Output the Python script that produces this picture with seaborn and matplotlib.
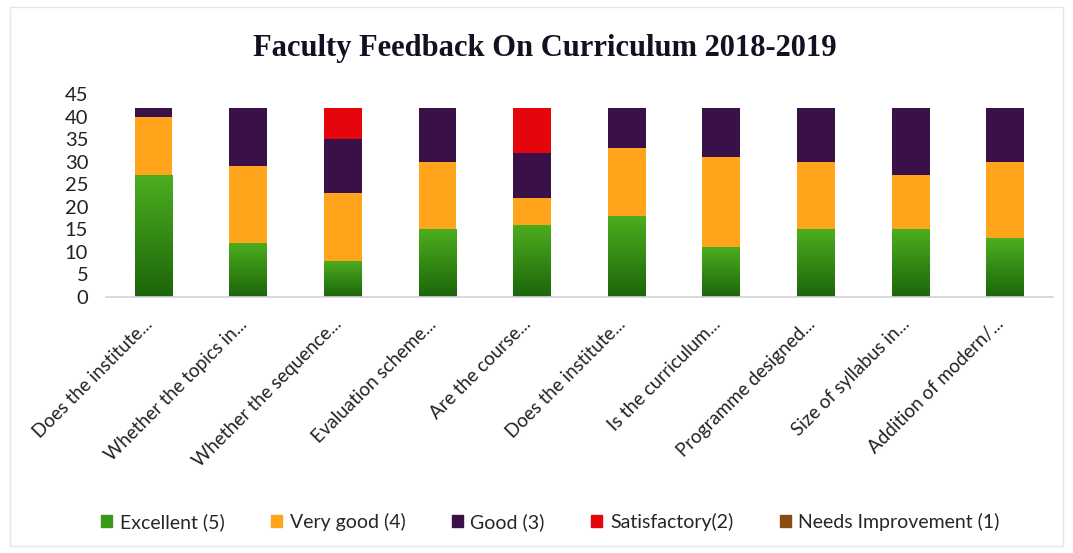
import numpy as np
import pandas as pd
import matplotlib
matplotlib.use("Agg")
import matplotlib.pyplot as plt
import matplotlib.transforms as mtransforms
from matplotlib.colors import LinearSegmentedColormap
from matplotlib.patches import Rectangle
import seaborn as sns

categories = [
    "Does the institute...",
    "Whether the topics in...",
    "Whether the sequence...",
    "Evaluation scheme...",
    "Are the course...",
    "Does the institute... ",
    "Is the curriculum...",
    "Programme designed...",
    "Size of syllabus in...",
    "Addition of modern/...",
]
tick_labels = [c.strip() for c in categories]

excellent = [27, 12, 8, 15, 16, 18, 11, 15, 15, 13]
very_good = [13, 17, 15, 15, 6, 15, 20, 15, 12, 17]
good = [2, 13, 12, 12, 10, 9, 11, 12, 15, 12]
satisfactory = [0, 0, 7, 0, 10, 0, 0, 0, 0, 0]
needs_improvement = [0, 0, 0, 0, 0, 0, 0, 0, 0, 0]

series_names = ["Excellent (5)", "Very good (4)", "Good (3)", "Satisfactory(2)", "Needs Improvement (1)"]
series_values = [excellent, very_good, good, satisfactory, needs_improvement]
series_colors = ["#3a9a18", "#ffa41b", "#3a1048", "#e5050c", "#8a4b14"]

title = "Faculty Feedback On Curriculum 2018-2019"
y_ticks = [0, 5, 10, 15, 20, 25, 30, 35, 40, 45]

sns.set_theme(style="white")
plt.rcParams["font.family"] = ["Lato", "DejaVu Sans"]

fig = plt.figure(figsize=(10.73, 5.53), dpi=100)
ax = fig.add_axes([0.099, 0.463, 0.882, 0.367])

bottom = np.zeros(len(categories))
containers = []
for name, vals, col in zip(series_names, series_values, series_colors):
    df = pd.DataFrame({"q": categories, "v": vals})
    sns.barplot(data=df, x="q", y="v", bottom=bottom.copy(), color=col,
                width=0.4, label=name, ax=ax, errorbar=None,
                saturation=1, linewidth=0)
    containers.append(ax.containers[-1])
    bottom += np.array(vals)

# green gradient
cmap = LinearSegmentedColormap.from_list("g", ["#1d650a", "#4cae1f"])
grad = np.linspace(0, 1, 256).reshape(-1, 1)
for p in containers[0].patches:
    x0, y0 = p.get_x(), p.get_y()
    w, h = p.get_width(), p.get_height()
    im = ax.imshow(grad, cmap=cmap, origin="lower", aspect="auto",
                   extent=(x0, x0 + w, y0, y0 + h), zorder=p.get_zorder() + 0.1)
    im.set_clip_path(p)

ax.set_xlim(-0.5, len(categories) - 0.5)
ax.set_ylim(0, 45)
ax.set_yticks(y_ticks)
ax.set_yticklabels([str(t) for t in y_ticks], fontsize=14.5, color="#222222")
ax.set_xlabel("")
ax.set_ylabel("")
for s in ["top", "right", "left"]:
    ax.spines[s].set_visible(False)
ax.spines["bottom"].set_color("#d6d0e4")
ax.spines["bottom"].set_linewidth(1.2)
ax.tick_params(axis="y", length=0, pad=13)
ax.tick_params(axis="x", length=0, pad=6)
ax.set_xticks(range(len(categories)))
ax.set_xticklabels(tick_labels, rotation=45, ha="right", va="center",
                   rotation_mode="anchor", fontsize=13.5, color="#222222")
offset = mtransforms.ScaledTranslation(-4 / 100, -16 / 100, fig.dpi_scale_trans)
for lbl in ax.get_xticklabels():
    lbl.set_transform(lbl.get_transform() + offset)
if ax.get_legend() is not None:
    ax.get_legend().remove()

fig.text(0.508, 0.913, title, ha="center", va="center", fontsize=22,
         fontweight="bold", family=["Liberation Serif", "DejaVu Serif"], color="#111122")

handles = [Rectangle((0, 0), 1, 1, color=c) for c in series_colors]
fig.legend(handles, series_names, loc="center", bbox_to_anchor=(0.513, 0.056),
           ncol=5, frameon=False, fontsize=14, handlelength=0.55, handleheight=0.55,
           handletextpad=0.4, columnspacing=2.4)

fig.patches.append(Rectangle((0.009, 0.012), 0.982, 0.975, transform=fig.transFigure,
                             fill=False, edgecolor="#e6e6e6", linewidth=1))

fig.savefig("out.png", dpi=100)
